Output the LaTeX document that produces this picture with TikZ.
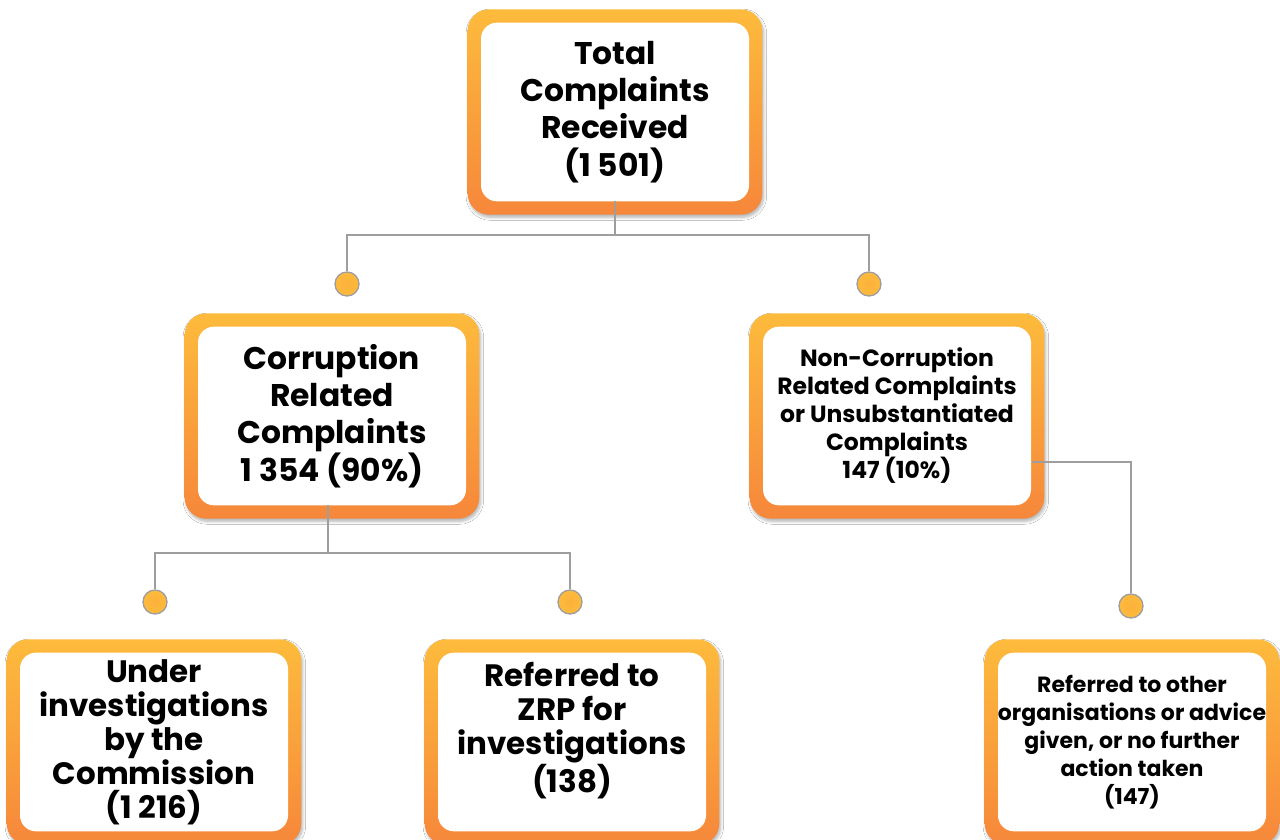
\documentclass[tikz,border=0pt]{standalone}
\usepackage{fontspec}
\setmainfont{Poppins}
\usetikzlibrary{shadows.blur}
\definecolor{boxtop}{HTML}{FDBB3C}
\definecolor{boxbot}{HTML}{F6873B}
\definecolor{linkgray}{HTML}{9E9E9E}
\tikzset{
  panel/.style={rounded corners=16pt, minimum width=221pt, minimum height=154pt,
    top color=boxtop, bottom color=boxbot, align=center, inner sep=0pt,
    blur shadow={shadow xshift=1pt, shadow yshift=-2pt, shadow opacity=30, shadow blur steps=6},
    path picture={\fill[white, rounded corners=12pt]
      ([shift={(10pt,-10pt)}]path picture bounding box.north west) rectangle
      ([shift={(-10pt,10pt)}]path picture bounding box.south east);}},
  bigtext/.style={font=\fontsize{23.5}{28}\selectfont\bfseries},
  midtext/.style={font=\fontsize{23.2}{25.5}\selectfont\bfseries},
  smalltext/.style={font=\fontsize{17.6}{21}\selectfont\bfseries},
  tinytext/.style={font=\fontsize{16.5}{21}\selectfont\bfseries},
  dot/.style={circle, minimum size=18pt, inner sep=0pt, draw=linkgray, line width=1pt,
    inner color=boxtop!80!boxbot, outer color=boxtop},
  link/.style={draw=linkgray, line width=1.5pt}
}
\begin{document}
\begin{tikzpicture}[x=0.75pt,y=-0.75pt]
\useasboundingbox (0,0) rectangle (1280,839);
\fill[white] (0,0) rectangle (1280,839);

% boxes
\node[panel, bigtext] (total) at (615,112) {Total\\Complaints\\Received\\(1 501)};
\node[panel, bigtext] (corr) at (332,416) {Corruption\\Related\\Complaints\\1 354 (90\%)};
\node[panel, smalltext] (noncorr) at (897,416) {Non-Corruption\\Related Complaints\\or Unsubstantiated\\Complaints\\147 (10\%)};
\node[panel, midtext] (under) at (154,742) {Under\\investigations\\by the\\Commission\\(1 216)};
\node[panel, midtext, text depth=22pt] (zrp) at (572,742) {Referred to\\ZRP for\\investigations\\(138)};
\node[panel, tinytext] (other) at (1132,742) {Referred to other\\organisations or advice\\given, or no further\\action taken\\(147)};

% dots
\node[dot] (d1) at (347,284) {};
\node[dot] (d2) at (869,284) {};
\node[dot] (d3) at (155,602) {};
\node[dot] (d4) at (570,602) {};
\node[dot] (d5) at (1131,606) {};

% junctions
\coordinate (tj) at (615,235);
\coordinate (cj) at (328,553);

% links
\draw[link] (total.south) ++(0,-14) -- (tj);
\draw[link] (d1) |- (tj) -| (d2);
\draw[link] (cj |- corr.south) ++(0,-14) -- (cj);
\draw[link] (d3) |- (cj) -| (d4);
\draw[link] (noncorr.east) ++(-13,46) -| (d5);
\end{tikzpicture}
\end{document}
